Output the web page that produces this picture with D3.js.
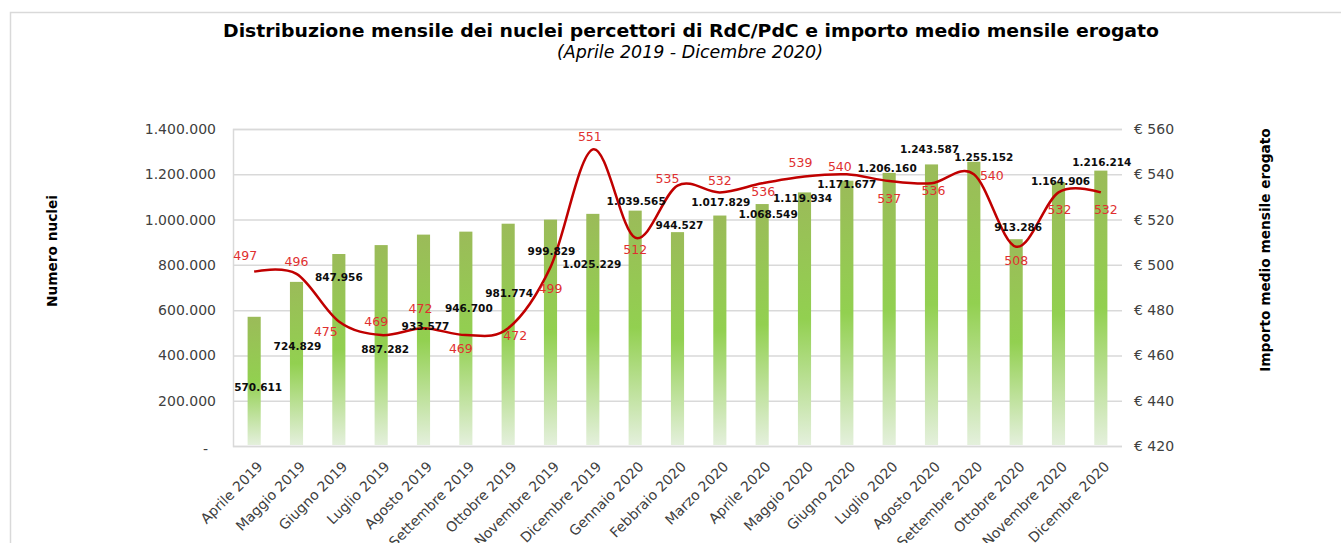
<!DOCTYPE html>
<html>
<head>
<meta charset="utf-8">
<script src="https://cdn.jsdelivr.net/npm/d3@7/dist/d3.min.js"></script>
<style>
  body { margin: 0; background: #fff; }
  svg, svg text { font-family: "DejaVu Sans", sans-serif; }
</style>
</head>
<body>
<script>
// data
const mesi = [
  "Aprile 2019", "Maggio 2019", "Giugno 2019", "Luglio 2019", "Agosto 2019",
  "Settembre 2019", "Ottobre 2019", "Novembre 2019", "Dicembre 2019",
  "Gennaio 2020", "Febbraio 2020", "Marzo 2020", "Aprile 2020", "Maggio 2020",
  "Giugno 2020", "Luglio 2020", "Agosto 2020", "Settembre 2020",
  "Ottobre 2020", "Novembre 2020", "Dicembre 2020"
];
const nuclei = [
  570611, 724829, 847956, 887282, 933577, 946700, 981774, 999829, 1025229,
  1039565, 944527, 1017829, 1068549, 1119934, 1171677, 1206160, 1243587,
  1255152, 913286, 1164906, 1216214
];
const importo = [
  497, 496, 475, 469, 472, 469, 472, 499, 551, 512, 535, 532, 536, 539, 540,
  537, 536, 540, 508, 532, 532
];
const leftTicks = [0, 200000, 400000, 600000, 800000, 1000000, 1200000, 1400000];
const rightTicks = [420, 440, 460, 480, 500, 520, 540, 560];

// manual label nudges (like in the excel original)
const barLabelOff = [
  [4, 71], [1, 64], [0, 23], [4, 104], [2, 92], [3, 77], [1, 70], [1, 32],
  [-1, 50], [1, -9], [2, -7], [1, -13], [6, 10], [-2, 6], [0, 4], [-2, -5],
  [-2, -15], [10, -4], [2, -12], [2, -1], [1, -8]
];
const lineLabelOff = [
  [-9, -16], [0, -12], [-13, 10], [-5, -13], [-3, -20], [-5, 14], [7, 7],
  [0, 22], [-3, -13], [0, 12], [-10, -7], [0, -12], [1, 8], [-4, -14],
  [-7, -8], [0, 18], [2, 7], [18, 1], [0, 14], [1, 17], [5, 17]
];

const w = 1341;
const h = 543;
const plot = { left: 233, right: 1122, top: 129, bottom: 446 };
const font = "DejaVu Sans, sans-serif";

const it = d3.formatLocale({ decimal: ",", thousands: ".", grouping: [3], currency: ["€ ", ""] });
const fmt = it.format(",d");

const svg = d3.select("body").append("svg").attr("width", w).attr("height", h)
  .attr("font-family", font);

// chart border (cut off like the screenshot)
svg.append("path")
  .attr("d", "M10.5," + h + " V12.5 H" + w)
  .attr("fill", "none")
  .attr("stroke", "#d9d9d9")
  .attr("stroke-width", 1.5);

const x = d3.scaleBand().domain(mesi).range([plot.left, plot.right]).paddingInner(0.69).paddingOuter(0.345);
const xc = (d) => x(d) + x.bandwidth() / 2;
const yL = d3.scaleLinear().domain([0, 1400000]).range([plot.bottom, plot.top]);
const yR = d3.scaleLinear().domain([420, 560]).range([plot.bottom, plot.top]);

// gradient for the bars
const grad = svg.append("defs").append("linearGradient")
  .attr("id", "barGrad").attr("x1", 0).attr("y1", 0).attr("x2", 0).attr("y2", 1);
grad.append("stop").attr("offset", "0%").attr("stop-color", "#9bbb59");
grad.append("stop").attr("offset", "50%").attr("stop-color", "#92d050");
grad.append("stop").attr("offset", "100%").attr("stop-color", "#e4f0dc");

// gridlines + left axis
const gridAxis = d3.axisLeft(yL).tickValues(leftTicks)
  .tickSize(-(plot.right - plot.left))
  .tickPadding(17)
  .tickFormat((d) => (d === 0 ? "-" : fmt(d)));
const gy = svg.append("g").attr("transform", "translate(" + plot.left + ",0)").call(gridAxis)
  .attr("font-family", font);
gy.select(".domain").attr("stroke", "#d9d9d9").attr("stroke-width", 1.5);
gy.selectAll(".tick line").attr("stroke", "#d9d9d9").attr("stroke-width", 1.5);
gy.selectAll(".tick text").attr("fill", "#404040").style("font-size", "14px");
gy.selectAll(".tick").filter((d) => d === 0).select("text").attr("dy", "0.5em").attr("x", -25);

// right axis
const rAxis = d3.axisRight(yR).tickValues(rightTicks).tickSize(0).tickPadding(12)
  .tickFormat((d) => "€ " + d);
const gr = svg.append("g").attr("transform", "translate(" + plot.right + ",0)").call(rAxis)
  .attr("font-family", font);
gr.select(".domain").remove();
gr.selectAll(".tick text").attr("fill", "#404040").style("font-size", "14px");

// bars
svg.selectAll("rect.bar")
  .data(nuclei)
  .enter()
  .append("rect")
  .attr("class", "bar")
  .attr("x", (d, i) => x(mesi[i]))
  .attr("width", x.bandwidth())
  .attr("y", (d) => yL(d))
  .attr("height", (d) => plot.bottom - yL(d) - 1)
  .attr("fill", "url(#barGrad)");

// bottom axis labels
const xAxis = d3.axisBottom(x).tickSize(0);
const gx = svg.append("g").attr("transform", "translate(0," + plot.bottom + ")").call(xAxis)
  .attr("font-family", font);
gx.select(".domain").remove();
gx.selectAll(".tick text")
  .attr("fill", "#404040")
  .style("font-size", "14px")
  .attr("text-anchor", "end")
  .attr("x", 0).attr("y", 0).attr("dy", "0.35em")
  .attr("transform", "translate(6,18) rotate(-45)");

// line
const line = d3.line()
  .x((d, i) => xc(mesi[i]))
  .y((d) => yR(d))
  .curve(d3.curveCardinal.tension(0));
svg.append("path")
  .datum(importo)
  .attr("fill", "none")
  .attr("stroke", "#c00000")
  .attr("stroke-width", 2.5)
  .attr("d", line);

// bar value labels
svg.selectAll("text.barlbl")
  .data(nuclei)
  .enter()
  .append("text")
  .attr("class", "barlbl")
  .attr("x", (d, i) => xc(mesi[i]) + barLabelOff[i][0])
  .attr("y", (d, i) => yL(d) + barLabelOff[i][1])
  .attr("dy", "0.35em")
  .attr("text-anchor", "middle")
  .style("font-size", "10.5px")
  .style("font-weight", "bold")
  .attr("fill", "#0d0d0d")
  .text((d) => fmt(d));

// line value labels
svg.selectAll("text.linelbl")
  .data(importo)
  .enter()
  .append("text")
  .attr("class", "linelbl")
  .attr("x", (d, i) => xc(mesi[i]) + lineLabelOff[i][0])
  .attr("y", (d, i) => yR(d) + lineLabelOff[i][1])
  .attr("dy", "0.35em")
  .attr("text-anchor", "middle")
  .style("font-size", "12.5px")
  .attr("fill", "#e03030")
  .text((d) => d);

// titles
svg.append("text")
  .attr("x", 691).attr("y", 37)
  .attr("text-anchor", "middle")
  .attr("textLength", 936).attr("lengthAdjust", "spacingAndGlyphs")
  .style("font-size", "17.5px").style("font-weight", "bold")
  .text("Distribuzione mensile dei nuclei percettori di RdC/PdC e importo medio mensile erogato");
svg.append("text")
  .attr("x", 690).attr("y", 58)
  .attr("text-anchor", "middle")
  .attr("textLength", 266).attr("lengthAdjust", "spacingAndGlyphs")
  .style("font-size", "17px").style("font-style", "italic")
  .text("(Aprile 2019 - Dicembre 2020)");

svg.append("text")
  .attr("transform", "translate(52,251) rotate(-90)")
  .attr("text-anchor", "middle").attr("dy", "0.35em")
  .style("font-size", "13.7px").style("font-weight", "bold")
  .text("Numero nuclei");
svg.append("text")
  .attr("transform", "translate(1265,250) rotate(-90)")
  .attr("text-anchor", "middle").attr("dy", "0.35em")
  .style("font-size", "13.7px").style("font-weight", "bold")
  .text("Importo medio mensile erogato");
</script>
</body>
</html>
